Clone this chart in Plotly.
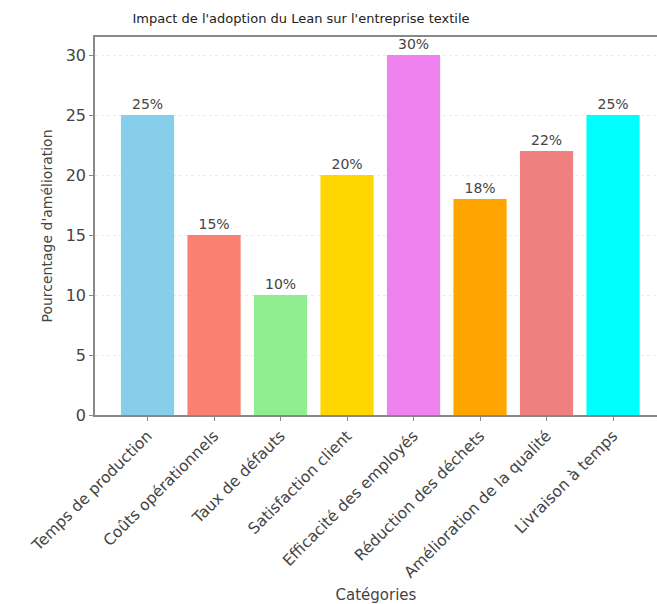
import plotly.graph_objects as go

categories = [
    "Temps de production",
    "Coûts opérationnels",
    "Taux de défauts",
    "Satisfaction client",
    "Efficacité des employés",
    "Réduction des déchets",
    "Amélioration de la qualité",
    "Livraison à temps",
]
improvement = [25, 15, 10, 20, 30, 18, 22, 25]
bar_colors = ["skyblue", "salmon", "lightgreen", "gold", "violet", "orange", "lightcoral", "cyan"]
y_ticks = [0, 5, 10, 15, 20, 25, 30]

FONT = "DejaVu Sans"
TEXT = "#444444"

fig = go.Figure(
    go.Bar(
        x=list(range(len(categories))),
        y=improvement,
        marker=dict(color=bar_colors, line=dict(width=0)),
        width=0.8,
        text=[f"{v}%" for v in improvement],
        textposition="outside",
        cliponaxis=False,
        textfont=dict(family=FONT, size=14, color=TEXT),
    )
)

fig.update_layout(
    width=657,
    height=604,
    margin=dict(l=95, r=0, t=37, b=189),
    plot_bgcolor="white",
    paper_bgcolor="white",
    showlegend=False,
    font=dict(family=FONT, size=13, color=TEXT),
    title=dict(
        text="Impact de l'adoption du Lean sur l'entreprise textile",
        x=301 / 657,
        xanchor="center",
        y=1 - 18 / 604,
        yanchor="middle",
        font=dict(family=FONT, size=13, color="#222"),
    ),
)

fig.update_xaxes(
    tickmode="array",
    tickvals=list(range(len(categories))),
    ticktext=categories,
    tickangle=-45,
    range=[-0.79, -0.79 + 562 / 66.5],
    automargin=False,
    showline=True,
    linecolor="#888",
    linewidth=1.5,
    mirror=True,
    ticks="outside",
    ticklen=4,
    tickcolor="#888",
    showgrid=False,
    tickfont=dict(family=FONT, size=15.5, color=TEXT),
    title=dict(text="Catégories", standoff=10, font=dict(family=FONT, size=15, color=TEXT)),
)

fig.update_yaxes(
    range=[0, 31.5],
    tickmode="array",
    tickvals=y_ticks,
    automargin=False,
    showline=True,
    linecolor="#888",
    linewidth=1.5,
    ticks="outside",
    ticklen=4,
    tickcolor="#888",
    showgrid=True,
    gridcolor="#ececec",
    griddash="dot",
    zeroline=False,
    tickfont=dict(family=FONT, size=16, color=TEXT),
    title=dict(text="Pourcentage d'amélioration", standoff=10, font=dict(family=FONT, size=14, color=TEXT)),
)

fig.write_html("out.html")
